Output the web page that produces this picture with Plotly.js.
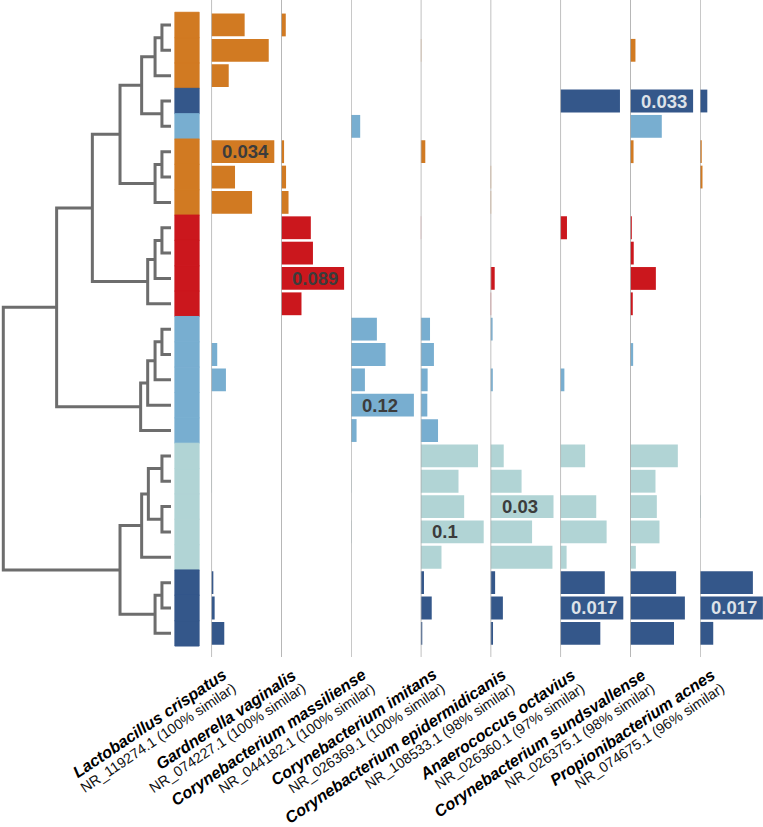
<!DOCTYPE html>
<html><head><meta charset="utf-8">
<script src="https://cdn.plot.ly/plotly-3.0.1.min.js"></script>
<style>html,body{margin:0;padding:0;background:#fff}</style>
</head><body><div id="chart" style="width:763px;height:827px"></div>
<script>
// ---------------- data ----------------
const taxa = ['Lactobacillus crispatus','Gardnerella vaginalis','Corynebacterium massiliense','Corynebacterium imitans','Corynebacterium epidermidicanis','Anaerococcus octavius','Corynebacterium sundsvallense','Propionibacterium acnes'];
const accessions = ['NR_119274.1 (100% similar)','NR_074227.1 (100% similar)','NR_044182.1 (100% similar)','NR_026369.1 (100% similar)','NR_108533.1 (98% similar)','NR_026360.1 (97% similar)','NR_026375.1 (98% similar)','NR_074675.1 (96% similar)'];
const maxLabels = ['0.034','0.089','0.12','0.1','0.03','0.017','0.033','0.017'];

// cluster of each sample row (top to bottom)
const rowCluster = ['A','A','A','F','D','A','A','A','R','R','R','R','D','D','D','D','D','T','T','T','T','T','F','F','F'];
const clusterColors = {A:'#d17a22', F:'#34578a', D:'#78aed0', R:'#cb171d', T:'#b1d4d5'};
const darkClusters = ['F'];

const lactobacillusCrispatus        = [0.018,0.031,0.0094,0,0,0.034,0.0128,0.022,0,0,0,0,0,0.0032,0.0079,0,0,0,0.0003,0,0,0,0.0011,0.0018,0.007];
const gardnerellaVaginalis          = [0.0066,0,0,0,0,0.0042,0.007,0.0105,0.042,0.045,0.089,0.0288,0,0,0,0,0,0,0.0004,0,0,0,0,0,0];
const corynebacteriumMassiliense    = [0,0,0,0,0.0177,0,0,0,0,0,0,0,0.0495,0.066,0.0267,0.12,0.0108,0,0.001,0,0.001,0,0,0,0];
const corynebacteriumImitans        = [0,0.0008,0,0,0,0.0073,0,0,0.0006,0,0,0,0.0148,0.021,0.011,0.0105,0.0275,0.091,0.06,0.069,0.1,0.033,0.0052,0.0175,0.0025];
const corynebacteriumEpidermidicanis= [0,0,0,0,0,0,0.0003,0.0003,0,0,0.002,0.0003,0.001,0,0.0011,0,0,0.0063,0.0148,0.03,0.0198,0.0295,0.0022,0.0059,0.0012];
const anaerococcusOctavius          = [0,0,0,0.0161,0,0,0,0,0.0018,0,0,0,0,0,0.0011,0,0,0.0067,0,0.0097,0.0125,0.0017,0.012,0.017,0.0108];
const corynebacteriumSundsvallense  = [0,0.0028,0,0.033,0.0166,0.0018,0,0,0.0009,0.0019,0.0135,0.0014,0,0.0016,0,0,0,0.025,0.0133,0.014,0.0154,0.003,0.0241,0.0287,0.023];
const propionibacteriumAcnes        = [0,0,0,0.002,0,0.0005,0.0007,0,0,0,0,0,0,0,0,0,0,0,0,0.0002,0,0,0.0143,0.017,0.0036];
const columns = [lactobacillusCrispatus,gardnerellaVaginalis,corynebacteriumMassiliense,corynebacteriumImitans,corynebacteriumEpidermidicanis,anaerococcusOctavius,corynebacteriumSundsvallense,propionibacteriumAcnes];

// hierarchical clustering linkage: [childA, childB, height]; leaves 0..24, new nodes 25..
const linkage = [
 [0,1,0.054],[25,2,0.095],[3,4,0.054],[26,27,0.175],[5,6,0.054],[29,7,0.095],[28,30,0.304],
 [8,9,0.054],[32,10,0.095],[33,11,0.139],[31,34,0.469],
 [12,13,0.054],[36,14,0.095],[37,15,0.139],[38,16,0.181],[35,39,0.682],
 [17,18,0.054],[19,20,0.054],[41,42,0.135],[43,21,0.175],
 [22,23,0.054],[45,24,0.095],[44,46,0.304],[40,47,1.0]
];

// ---------------- layout helpers ----------------
const W = 763, H = 827;
const nRows = rowCluster.length;
const rows = rowCluster.map((_, i) => i);
const rowColors = rowCluster.map(c => clusterColors[c]);
const FONT = 'Liberation Sans, Arial, Helvetica, sans-serif';
const px = v => v / W;
const colBase = k => 211.3 + 69.8 * k;

// dendrogram coordinates from linkage
const nodeY = rows.slice(), nodeH = rows.map(() => 0);
const dx = [], dy = [];
linkage.forEach(([a, b, h], j) => {
  dx.push(nodeH[a], h, h, nodeH[b], null);
  dy.push(nodeY[a], nodeY[a], nodeY[b], nodeY[b], null);
  nodeY[nRows + j] = (nodeY[a] + nodeY[b]) / 2;
  nodeH[nRows + j] = h;
});

const traces = [];
traces.push({type:'scatter', mode:'lines', x:dx, y:dy, xaxis:'x', yaxis:'y',
  line:{color:'#6d6d6d', width:3}, hoverinfo:'skip', showlegend:false, connectgaps:false});
traces.push({type:'bar', orientation:'h', x:rows.map(() => 1), y:rows, width:1, base:0,
  xaxis:'x2', yaxis:'y', marker:{color:rowColors, line:{width:1, color:rowColors}}, hoverinfo:'skip', showlegend:false});

const layout = {
  width:W, height:H, margin:{l:0,r:0,t:0,b:0}, paper_bgcolor:'#fff', plot_bgcolor:'rgba(0,0,0,0)',
  showlegend:false, barmode:'overlay', font:{family:FONT},
  yaxis:{domain:[1 - 657/H, 1], range:[24.934, -0.985], visible:false, fixedrange:true},
  xaxis:{domain:[0, px(175)], range:[1.01966, -0.02387], visible:false, anchor:'y'},
  xaxis2:{domain:[px(174.5), px(199.5)], range:[0, 1], visible:false, anchor:'y'},
  shapes:[], annotations:[]
};

const th = 34 * Math.PI / 180, S = Math.sin(th), C = Math.cos(th);
const BP = 0;
function anchorFor(bx, by, fs) {
  const ex = bx - 0.3465 * fs * S, ey = by - 0.3465 * fs * C;
  const h = 1.117 * fs + 2 * BP;
  return {x:(ex + h / 2 * S) / W, y:1 - (ey - h / 2 * C) / H};
}

columns.forEach((vals, k) => {
  const ax = 'x' + (k + 3);
  const b = colBase(k);
  const right = Math.min(b + 70, W);
  const vmax = Math.max(...vals);
  const rmax = vmax / 0.9 * (right - b) / 70;
  layout['xaxis' + (k + 3)] = {domain:[px(b), px(right)], range:[0, rmax], visible:false, anchor:'y'};
  traces.push({type:'bar', orientation:'h', x:vals, y:rows, width:0.9, base:0, xaxis:ax, yaxis:'y',
    marker:{color:rowColors, line:{width:0}}, hoverinfo:'skip', showlegend:false});
  layout.shapes.push({type:'line', xref:ax, yref:'paper', x0:0, x1:0, y0:1 - 657/H, y1:1,
    line:{color:'#ababab', width:1.5}, layer:'above'});
  const iMax = vals.indexOf(vmax);
  layout.annotations.push({xref:ax, yref:'y', x:0, y:iMax, xanchor:'left', yanchor:'middle', xshift:9,
    text:'<b>' + maxLabels[k] + '</b>', showarrow:false,
    font:{family:FONT, size:18.5, color: darkClusters.includes(rowCluster[iMax]) ? '#dde2e8' : '#3c3c3c'}});
  const p1 = anchorFor(b + 17.7, 676, 16.3);
  layout.annotations.push({xref:'paper', yref:'paper', x:p1.x, y:p1.y, xanchor:'right', yanchor:'top', borderpad:BP,
    textangle:-34, showarrow:false, text:'<b><i>' + taxa[k] + '</i></b>', font:{family:FONT, size:16.3, color:'#000'}});
  const p2 = anchorFor(b + 26.8, 689, 14.4);
  layout.annotations.push({xref:'paper', yref:'paper', x:p2.x, y:p2.y, xanchor:'right', yanchor:'top', borderpad:BP,
    textangle:-34, showarrow:false, text:accessions[k], font:{family:FONT, size:14.4, color:'#111'}});
});

Plotly.newPlot('chart', traces, layout, {staticPlot:true, displayModeBar:false});
</script></body></html>
